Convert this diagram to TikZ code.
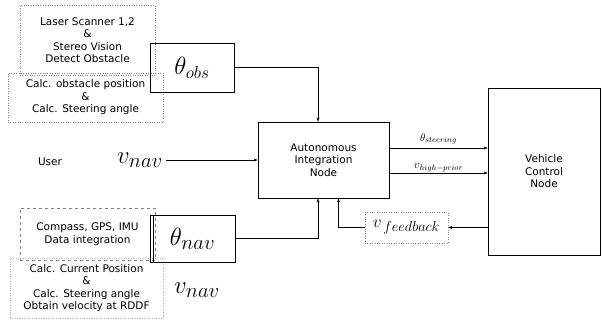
\documentclass[tikz,border=0pt]{standalone}
\usepackage{fontspec}
\setmainfont{DejaVu Sans}
\usepackage{amsmath}
\usetikzlibrary{positioning, arrows.meta}

\tikzset{
  txtbox/.style={draw=gray, dotted, align=center, inner sep=0pt,
    font=\fontsize{10.5}{12.5}\selectfont},
  mathbox/.style={draw, thin, inner sep=0pt},
  block/.style={draw, thick, align=center, inner sep=0pt,
    font=\fontsize{10.5}{12.5}\selectfont},
  arr/.style={-{Stealth[length=4pt,width=3pt]}, thick}
}

\begin{document}
\begin{tikzpicture}[x=1pt, y=-1pt]
    \useasboundingbox (0,0) rectangle (602,325);

    % Obstacle side
    \node[txtbox, minimum width=135pt, minimum height=70pt] (laser) at (87.5,40)
        {Laser Scanner 1,2\\ \&\\ Stereo Vision\\ Detect Obstacle};
    \node[txtbox, minimum width=155pt, minimum height=49pt] (calcobs) at (85.5,97.5)
        {Calc. obstacle position\\ \&\\ Calc. Steering angle};
    \node[mathbox, minimum width=84pt, minimum height=49pt] (thobs) at (192,67.5)
        {\fontsize{26}{26}\selectfont $\theta_{obs}$};

    % User input
    \node[font=\fontsize{10.5}{12}\selectfont] (user) at (50,162) {User};
    \node (vuser) at (140,160) {\fontsize{30}{30}\selectfont $v_{nav}$};

    % Integration and vehicle nodes
    \node[block, minimum width=131pt, minimum height=76pt] (auto) at (323.5,160)
        {Autonomous\\ Integration\\ Node};
    \node[block, minimum width=112pt, minimum height=167pt] (vehicle) at (544,171.5)
        {Vehicle\\ Control\\ Node};
    \node[txtbox, minimum width=83pt, minimum height=31pt] (feedback) at (406.5,227.5)
        {\fontsize{19}{19}\selectfont $v_{\,feedback}$};

    % Navigation side
    \node[txtbox, dashed, minimum width=135pt, minimum height=52pt] (compass) at (87.5,234)
        {Compass, GPS, IMU\\ Data integration};
    \node[txtbox, draw=gray!60, minimum width=153pt, minimum height=60pt] (calcpos) at (86.5,288)
        {Calc. Current Position\\ \&\\ Calc. Steering angle\\ Obtain velocity at RDDF};
    \node[mathbox, minimum width=85pt, minimum height=47pt] (thnav) at (192.5,238.5)
        {\fontsize{28}{28}\selectfont $\theta_{nav}$};
    \draw[thin] ([xshift=3pt]thnav.north west) -- ([xshift=3pt]thnav.south west);
    \node (vnav) at (197,290) {\fontsize{30}{30}\selectfont $v_{nav}$};

    % Connectors
    \coordinate (s1) at ([yshift=12pt]auto.east);
    \coordinate (s2) at ([yshift=-13pt]auto.east);
    \draw[arr] (thobs.east) -| ([xshift=-5.5pt]auto.north);
    \draw[arr] (vuser.east) -- (auto.west);
    \draw[arr] (s1) -- (s1 -| vehicle.west)
        node[midway, above] {\fontsize{11}{11}\selectfont $\theta_{steering}$};
    \draw[arr] (s2) -- (s2 -| vehicle.west)
        node[midway, above, inner sep=1pt] {\fontsize{12}{12}\selectfont $v_{high-prior}$};
    \draw[arr] (feedback.east -| vehicle.west) -- (feedback.east);
    \draw[arr] (feedback.west) -| ([xshift=15pt]auto.south);
    \draw[arr] (thnav.east) -| ([xshift=-5.5pt]auto.south);
\end{tikzpicture}
\end{document}
